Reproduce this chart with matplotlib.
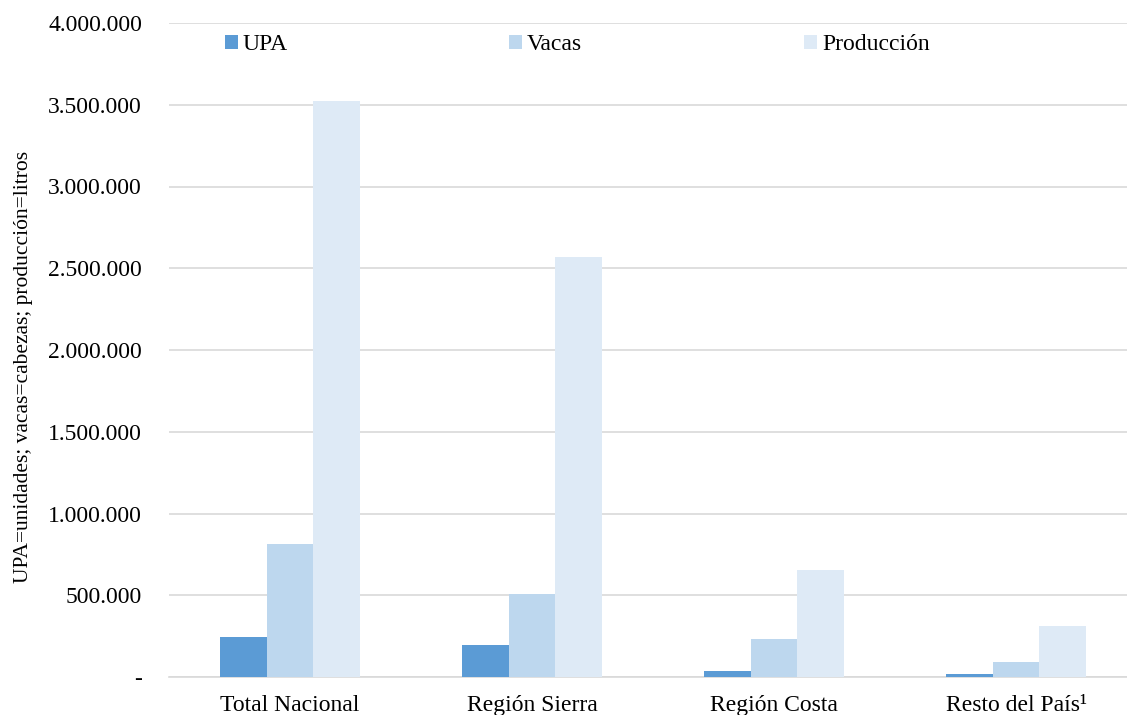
import numpy as np
import matplotlib.pyplot as plt
from matplotlib.ticker import FuncFormatter

categories = ["Total Nacional", "Región Sierra", "Región Costa", "Resto del País¹"]
upa = [245000, 196000, 37000, 20000]
vacas = [813000, 508000, 232000, 92000]
produccion = [3523000, 2569000, 654000, 312000]

series = [("UPA", upa, "#5B9BD5"),
          ("Vacas", vacas, "#BDD7EE"),
          ("Producción", produccion, "#DEEAF6")]

plt.rcParams["font.family"] = ["Liberation Serif", "DejaVu Serif"]

fig = plt.figure(figsize=(11.27, 7.15), dpi=100)
ax = fig.add_axes([169 / 1127, 1 - 677 / 715, 968 / 1127, 654 / 715])

x = np.arange(len(categories))
w = 0.194
for i, (name, vals, color) in enumerate(series):
    ax.bar(x + (i - 1) * w, vals, width=w, color=color, label=name, zorder=3)

ax.set_xlim(-0.5, len(categories) - 0.5)
ax.set_ylim(0, 4000000)
ax.set_yticks(np.arange(0, 4000001, 500000))


def fmt(v, pos):
    if v == 0:
        return "-"
    return f"{int(v):,}".replace(",", ".")


ax.yaxis.set_major_formatter(FuncFormatter(fmt))
ax.set_xticks(x)
ax.set_xticklabels(categories)
ax.tick_params(axis="both", length=0, labelsize=17, colors="black")
ax.tick_params(axis="y", pad=19.5)
ax.tick_params(axis="x", pad=13)

ax.grid(axis="y", color="#D9D9D9", linewidth=1.2, zorder=0)
for s in ["top", "right", "left"]:
    ax.spines[s].set_visible(False)
ax.spines["bottom"].set_color("#D9D9D9")
ax.spines["bottom"].set_linewidth(1.2)

ax.set_ylabel("UPA=unidades; vacas=cabezas; producción=litros", fontsize=15.5)
ax.yaxis.set_label_coords(-0.1405, 0.474)

ax.legend(loc="upper left", bbox_to_anchor=(0.0355, 1.015), ncol=3, frameon=False,
          fontsize=17, handlelength=0.55, handleheight=0.55, handletextpad=0.2,
          columnspacing=9.4)

fig.savefig("out.png", dpi=100)
